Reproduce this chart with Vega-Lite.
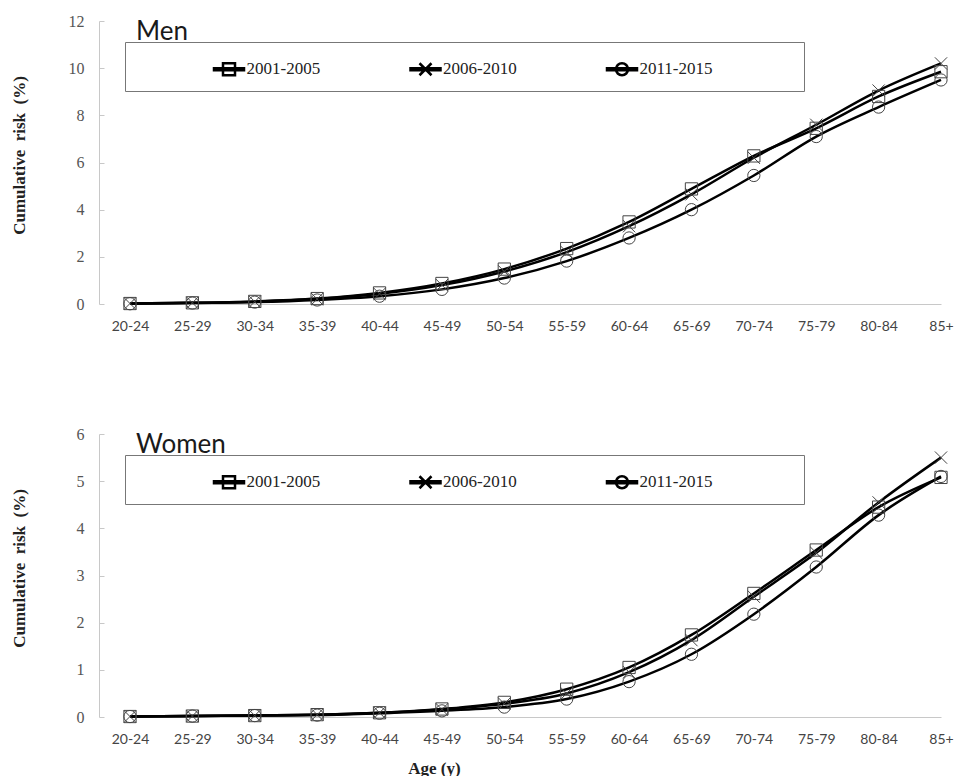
{
  "$schema": "https://vega.github.io/schema/vega-lite/v6.json",
  "background": "white",
  "padding": {"left": 9, "top": 13, "right": 0, "bottom": 0},
  "spacing": 93,
  "config": {
    "view": {"stroke": null},
    "axis": {"grid": false, "domainColor": "#c8c8c8", "domainWidth": 1},
    "point": {"filled": false, "size": 150, "strokeWidth": 1, "stroke": "#444", "opacity": 1},
    "line": {"interpolate": "monotone", "strokeWidth": 2.5},
    "text": {"align": "left", "baseline": "alphabetic", "dx": 6, "font": "Lato", "fontSize": 26, "color": "#1a1a1a"},
    "legend": {
      "orient": "none", "legendX": 26, "legendY": 21, "direction": "horizontal",
      "titleOrient": "left", "titleFontSize": 1, "titlePadding": 77,
      "padding": 10.5, "strokeColor": "#777", "fillColor": "white",
      "symbolSize": 900, "symbolStrokeWidth": 1.3, "symbolFillColor": "transparent", "symbolStrokeColor": "#111",
      "labelFont": "Liberation Serif", "labelFontSize": 17, "labelColor": "#222", "labelOffset": 1, "labelLimit": 400,
      "columnPadding": 84.5
    }
  },
  "datasets": {
    "risk": [
      {"sex": "Men", "age": "20-24", "period": "2001-2005", "risk": 0.02},
      {"sex": "Men", "age": "25-29", "period": "2001-2005", "risk": 0.05},
      {"sex": "Men", "age": "30-34", "period": "2001-2005", "risk": 0.11},
      {"sex": "Men", "age": "35-39", "period": "2001-2005", "risk": 0.23},
      {"sex": "Men", "age": "40-44", "period": "2001-2005", "risk": 0.47},
      {"sex": "Men", "age": "45-49", "period": "2001-2005", "risk": 0.87},
      {"sex": "Men", "age": "50-54", "period": "2001-2005", "risk": 1.48},
      {"sex": "Men", "age": "55-59", "period": "2001-2005", "risk": 2.35},
      {"sex": "Men", "age": "60-64", "period": "2001-2005", "risk": 3.48},
      {"sex": "Men", "age": "65-69", "period": "2001-2005", "risk": 4.88},
      {"sex": "Men", "age": "70-74", "period": "2001-2005", "risk": 6.28},
      {"sex": "Men", "age": "75-79", "period": "2001-2005", "risk": 7.45},
      {"sex": "Men", "age": "80-84", "period": "2001-2005", "risk": 8.8},
      {"sex": "Men", "age": "85+", "period": "2001-2005", "risk": 9.85},
      {"sex": "Men", "age": "20-24", "period": "2006-2010", "risk": 0.02},
      {"sex": "Men", "age": "25-29", "period": "2006-2010", "risk": 0.05},
      {"sex": "Men", "age": "30-34", "period": "2006-2010", "risk": 0.1},
      {"sex": "Men", "age": "35-39", "period": "2006-2010", "risk": 0.21},
      {"sex": "Men", "age": "40-44", "period": "2006-2010", "risk": 0.43},
      {"sex": "Men", "age": "45-49", "period": "2006-2010", "risk": 0.8},
      {"sex": "Men", "age": "50-54", "period": "2006-2010", "risk": 1.38},
      {"sex": "Men", "age": "55-59", "period": "2006-2010", "risk": 2.2},
      {"sex": "Men", "age": "60-64", "period": "2006-2010", "risk": 3.3},
      {"sex": "Men", "age": "65-69", "period": "2006-2010", "risk": 4.65},
      {"sex": "Men", "age": "70-74", "period": "2006-2010", "risk": 6.2},
      {"sex": "Men", "age": "75-79", "period": "2006-2010", "risk": 7.6},
      {"sex": "Men", "age": "80-84", "period": "2006-2010", "risk": 9.05},
      {"sex": "Men", "age": "85+", "period": "2006-2010", "risk": 10.2},
      {"sex": "Men", "age": "20-24", "period": "2011-2015", "risk": 0.01},
      {"sex": "Men", "age": "25-29", "period": "2011-2015", "risk": 0.04},
      {"sex": "Men", "age": "30-34", "period": "2011-2015", "risk": 0.08},
      {"sex": "Men", "age": "35-39", "period": "2011-2015", "risk": 0.17},
      {"sex": "Men", "age": "40-44", "period": "2011-2015", "risk": 0.33},
      {"sex": "Men", "age": "45-49", "period": "2011-2015", "risk": 0.62},
      {"sex": "Men", "age": "50-54", "period": "2011-2015", "risk": 1.1},
      {"sex": "Men", "age": "55-59", "period": "2011-2015", "risk": 1.82},
      {"sex": "Men", "age": "60-64", "period": "2011-2015", "risk": 2.8},
      {"sex": "Men", "age": "65-69", "period": "2011-2015", "risk": 4.0},
      {"sex": "Men", "age": "70-74", "period": "2011-2015", "risk": 5.45},
      {"sex": "Men", "age": "75-79", "period": "2011-2015", "risk": 7.1},
      {"sex": "Men", "age": "80-84", "period": "2011-2015", "risk": 8.35},
      {"sex": "Men", "age": "85+", "period": "2011-2015", "risk": 9.5},
      {"sex": "Women", "age": "20-24", "period": "2001-2005", "risk": 0.01},
      {"sex": "Women", "age": "25-29", "period": "2001-2005", "risk": 0.02},
      {"sex": "Women", "age": "30-34", "period": "2001-2005", "risk": 0.03},
      {"sex": "Women", "age": "35-39", "period": "2001-2005", "risk": 0.05},
      {"sex": "Women", "age": "40-44", "period": "2001-2005", "risk": 0.09},
      {"sex": "Women", "age": "45-49", "period": "2001-2005", "risk": 0.17},
      {"sex": "Women", "age": "50-54", "period": "2001-2005", "risk": 0.31},
      {"sex": "Women", "age": "55-59", "period": "2001-2005", "risk": 0.59},
      {"sex": "Women", "age": "60-64", "period": "2001-2005", "risk": 1.05},
      {"sex": "Women", "age": "65-69", "period": "2001-2005", "risk": 1.74},
      {"sex": "Women", "age": "70-74", "period": "2001-2005", "risk": 2.62},
      {"sex": "Women", "age": "75-79", "period": "2001-2005", "risk": 3.54},
      {"sex": "Women", "age": "80-84", "period": "2001-2005", "risk": 4.45},
      {"sex": "Women", "age": "85+", "period": "2001-2005", "risk": 5.08},
      {"sex": "Women", "age": "20-24", "period": "2006-2010", "risk": 0.01},
      {"sex": "Women", "age": "25-29", "period": "2006-2010", "risk": 0.02},
      {"sex": "Women", "age": "30-34", "period": "2006-2010", "risk": 0.03},
      {"sex": "Women", "age": "35-39", "period": "2006-2010", "risk": 0.05},
      {"sex": "Women", "age": "40-44", "period": "2006-2010", "risk": 0.09},
      {"sex": "Women", "age": "45-49", "period": "2006-2010", "risk": 0.16},
      {"sex": "Women", "age": "50-54", "period": "2006-2010", "risk": 0.28},
      {"sex": "Women", "age": "55-59", "period": "2006-2010", "risk": 0.5},
      {"sex": "Women", "age": "60-64", "period": "2006-2010", "risk": 0.95},
      {"sex": "Women", "age": "65-69", "period": "2006-2010", "risk": 1.63},
      {"sex": "Women", "age": "70-74", "period": "2006-2010", "risk": 2.55},
      {"sex": "Women", "age": "75-79", "period": "2006-2010", "risk": 3.48},
      {"sex": "Women", "age": "80-84", "period": "2006-2010", "risk": 4.55},
      {"sex": "Women", "age": "85+", "period": "2006-2010", "risk": 5.5},
      {"sex": "Women", "age": "20-24", "period": "2011-2015", "risk": 0.01},
      {"sex": "Women", "age": "25-29", "period": "2011-2015", "risk": 0.02},
      {"sex": "Women", "age": "30-34", "period": "2011-2015", "risk": 0.03},
      {"sex": "Women", "age": "35-39", "period": "2011-2015", "risk": 0.04},
      {"sex": "Women", "age": "40-44", "period": "2011-2015", "risk": 0.08},
      {"sex": "Women", "age": "45-49", "period": "2011-2015", "risk": 0.13},
      {"sex": "Women", "age": "50-54", "period": "2011-2015", "risk": 0.21},
      {"sex": "Women", "age": "55-59", "period": "2011-2015", "risk": 0.38},
      {"sex": "Women", "age": "60-64", "period": "2011-2015", "risk": 0.75},
      {"sex": "Women", "age": "65-69", "period": "2011-2015", "risk": 1.33},
      {"sex": "Women", "age": "70-74", "period": "2011-2015", "risk": 2.18},
      {"sex": "Women", "age": "75-79", "period": "2011-2015", "risk": 3.18},
      {"sex": "Women", "age": "80-84", "period": "2011-2015", "risk": 4.28},
      {"sex": "Women", "age": "85+", "period": "2011-2015", "risk": 5.1}
    ]
  },
  "resolve": {
    "scale": {"y": "independent", "x": "independent", "stroke": "independent"},
    "legend": {"stroke": "independent"}
  },
  "vconcat": [
    {
      "width": 865,
      "height": 283,
      "data": {"name": "risk"},
      "encoding": {
        "x": {
          "field": "age", "type": "ordinal",
          "sort": ["20-24","25-29","30-34","35-39","40-44","45-49","50-54","55-59","60-64","65-69","70-74","75-79","80-84","85+"],
          "scale": {"type": "point", "padding": 0, "range": [31, 842]},
          "axis": {"title": null, "labelAngle": 0, "labelFont": "Lato", "labelFontSize": 14, "labelColor": "#444", "ticks": false, "tickSize": 0, "labelPadding": 15}
        },
        "y": {
          "field": "risk", "type": "quantitative",
          "scale": {"domain": [0, 12], "nice": false},
          "axis": {"title": "Cumulative\u00a0 risk\u00a0 (%)", "values": [0,2,4,6,8,10,12], "titleFont": "Liberation Serif", "titleFontSize": 17, "titleFontWeight": "bold", "titleColor": "#222", "titleX": -80, "titleY": 134, "titleBaseline": "middle", "labelFont": "Liberation Serif", "labelFontSize": 16, "labelColor": "#555", "tickSize": -5, "tickColor": "#c8c8c8", "labelPadding": 20}
        }
      },
      "layer": [
        {
          "transform": [{"filter": "datum.sex === 'Men'"}],
          "mark": {"type": "line"},
          "encoding": {
            "stroke": {
              "field": "period", "type": "nominal",
              "scale": {"domain": ["2001-2005","2006-2010","2011-2015"], "range": ["#000", "#000", "#000"]},
              "legend": {
                "title": " ",
                "symbolType": {"expr": "datum.value === '2001-2005' ? 'M-1,-0.07H1V0.07H-1ZM-0.4,-0.4H0.4V0.4H-0.4Z' : datum.value === '2006-2010' ? 'M-1,-0.07H1V0.07H-1ZM-0.4,-0.4L0.4,0.4M-0.4,0.4L0.4,-0.4' : 'M-1,-0.07H1V0.07H-1ZM0.4,0A0.4,0.4,0,1,1,-0.4,0A0.4,0.4,0,1,1,0.4,0Z'"},
                "labelExpr": "datum.label === '2011-2015' ? datum.label + '\u00a0\u00a0\u00a0\u00a0\u00a0\u00a0\u00a0\u00a0\u00a0\u00a0\u00a0\u00a0\u00a0\u00a0\u00a0\u00a0\u00a0\u00a0\u00a0\u200b' : datum.label",
                "encode": {
                  "legend": {"strokeWidth": {"value": 1.5}},
                  "symbols": {
                    "strokeWidth": {"value": 1.3},
                    "fill": {"value": "transparent"},
                    "opacity": {"value": 1}
                  }
                }
              }
            }
          }
        },
        {
          "transform": [{"filter": "datum.sex === 'Men' && datum.period === '2001-2005'"}],
          "mark": {"type": "point", "shape": "square"}
        },
        {
          "transform": [{"filter": "datum.sex === 'Men' && datum.period === '2006-2010'"}],
          "mark": {"type": "point", "shape": "M-1,-1L1,1M-1,1L1,-1"}
        },
        {
          "transform": [{"filter": "datum.sex === 'Men' && datum.period === '2011-2015'"}],
          "mark": {"type": "point", "shape": "circle"}
        },
        {
          "transform": [{"filter": "datum.sex === 'Men' && datum.age === '20-24' && datum.period === '2001-2005'"}],
          "mark": {"type": "text"},
          "encoding": {
            "y": {"datum": 11.2},
            "text": {"field": "sex", "type": "nominal"}
          }
        }
      ]
    },
    {
      "width": 865,
      "height": 283,
      "data": {"name": "risk"},
      "encoding": {
        "x": {
          "field": "age", "type": "ordinal",
          "sort": ["20-24","25-29","30-34","35-39","40-44","45-49","50-54","55-59","60-64","65-69","70-74","75-79","80-84","85+"],
          "scale": {"type": "point", "padding": 0, "range": [31, 842]},
          "axis": {"title": "Age (y)", "titleFont": "Liberation Serif", "titleFontSize": 17, "titleFontWeight": "bold", "titleColor": "#222", "titleX": 335, "titleY": 51, "titleBaseline": "middle", "labelAngle": 0, "labelFont": "Lato", "labelFontSize": 14, "labelColor": "#444", "ticks": false, "tickSize": 0, "labelPadding": 15}
        },
        "y": {
          "field": "risk", "type": "quantitative",
          "scale": {"domain": [0, 6], "nice": false},
          "axis": {"title": "Cumulative\u00a0 risk\u00a0 (%)", "values": [0,1,2,3,4,5,6], "titleFont": "Liberation Serif", "titleFontSize": 17, "titleFontWeight": "bold", "titleColor": "#222", "titleX": -80, "titleY": 134, "titleBaseline": "middle", "labelFont": "Liberation Serif", "labelFontSize": 16, "labelColor": "#555", "tickSize": -5, "tickColor": "#c8c8c8", "labelPadding": 20}
        }
      },
      "layer": [
        {
          "transform": [{"filter": "datum.sex === 'Women'"}],
          "mark": {"type": "line"},
          "encoding": {
            "stroke": {
              "field": "period", "type": "nominal",
              "scale": {"domain": ["2001-2005","2006-2010","2011-2015"], "range": ["#000", "#000", "#000"]},
              "legend": {
                "title": " ",
                "symbolType": {"expr": "datum.value === '2001-2005' ? 'M-1,-0.07H1V0.07H-1ZM-0.4,-0.4H0.4V0.4H-0.4Z' : datum.value === '2006-2010' ? 'M-1,-0.07H1V0.07H-1ZM-0.4,-0.4L0.4,0.4M-0.4,0.4L0.4,-0.4' : 'M-1,-0.07H1V0.07H-1ZM0.4,0A0.4,0.4,0,1,1,-0.4,0A0.4,0.4,0,1,1,0.4,0Z'"},
                "labelExpr": "datum.label === '2011-2015' ? datum.label + '\u00a0\u00a0\u00a0\u00a0\u00a0\u00a0\u00a0\u00a0\u00a0\u00a0\u00a0\u00a0\u00a0\u00a0\u00a0\u00a0\u00a0\u00a0\u00a0\u200b' : datum.label",
                "encode": {
                  "legend": {"strokeWidth": {"value": 1.5}},
                  "symbols": {
                    "strokeWidth": {"value": 1.3},
                    "fill": {"value": "transparent"},
                    "opacity": {"value": 1}
                  }
                }
              }
            }
          }
        },
        {
          "transform": [{"filter": "datum.sex === 'Women' && datum.period === '2001-2005'"}],
          "mark": {"type": "point", "shape": "square"}
        },
        {
          "transform": [{"filter": "datum.sex === 'Women' && datum.period === '2006-2010'"}],
          "mark": {"type": "point", "shape": "M-1,-1L1,1M-1,1L1,-1"}
        },
        {
          "transform": [{"filter": "datum.sex === 'Women' && datum.period === '2011-2015'"}],
          "mark": {"type": "point", "shape": "circle"}
        },
        {
          "transform": [{"filter": "datum.sex === 'Women' && datum.age === '20-24' && datum.period === '2001-2005'"}],
          "mark": {"type": "text"},
          "encoding": {
            "y": {"datum": 5.59},
            "text": {"field": "sex", "type": "nominal"}
          }
        }
      ]
    }
  ]
}
